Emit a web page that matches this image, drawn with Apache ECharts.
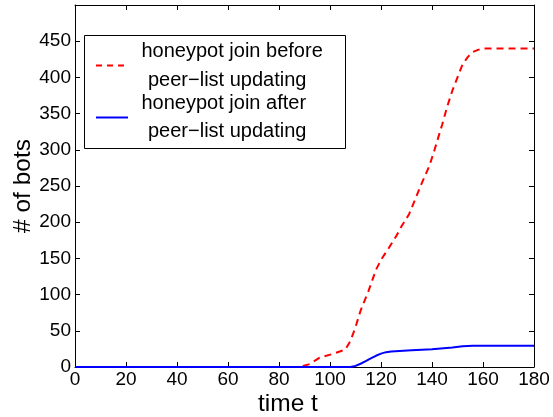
<!DOCTYPE html>
<html>
<head>
<meta charset="utf-8">
<script src="https://cdn.jsdelivr.net/npm/echarts@6/dist/echarts.min.js"></script>
<style>
  html, body { margin: 0; padding: 0; background: #fff; }
  #chart { width: 553px; height: 417px; }
</style>
</head>
<body>
<div id="chart"></div>
<script>
// Bot counts over time for the two honeypot join strategies
const beforeTime = [0, 88, 92, 96, 101, 106, 108, 110, 112, 115, 118, 120, 123, 126, 128, 131, 133, 136, 139, 141, 144, 146, 148, 150, 152, 154, 156, 158, 160, 165, 170, 175, 180];
const beforeBots = [0, 0, 4, 13, 18, 24, 36, 55, 78, 104, 134, 148, 164, 181, 194, 211, 228, 254, 278, 300, 335, 360, 382, 400, 418, 428, 435, 438, 440, 440, 440, 440, 440];

const afterTime = [0, 108, 110, 112, 114, 116, 118, 120, 122, 124, 132, 140, 148, 152, 156, 160, 170, 180];
const afterBots = [0, 0, 1.5, 4.5, 8, 12, 15.5, 18.5, 20.5, 21.5, 23, 24.5, 27, 28.5, 29.2, 29.5, 29.5, 29.5];

const xTicks = [0, 20, 40, 60, 80, 100, 120, 140, 160, 180];
const yTicks = [0, 50, 100, 150, 200, 250, 300, 350, 400, 450];

const legendNames = ['honeypot join before\npeer\u2212list updating', 'honeypot join after\npeer\u2212list updating'];

const FONT = "'Liberation Sans', Arial, Helvetica, sans-serif";

const pairs = (xs, ys) => xs.map((x, i) => [x, ys[i]]);

const chart = echarts.init(document.getElementById('chart'), null, { renderer: 'canvas' });

const axisLine = { show: true, onZero: false, lineStyle: { color: '#000', width: 1 } };
const tickIn = { show: true, inside: true, length: 5, lineStyle: { color: '#000', width: 1 } };

chart.setOption({
  animation: false,
  backgroundColor: '#fff',
  grid: { left: 75, right: 19, top: 5, bottom: 50, containLabel: false },
  xAxis: [
    {
      type: 'value', min: 0, max: 180, interval: 20, position: 'bottom',
      axisLine: axisLine, axisTick: tickIn, splitLine: { show: false },
      axisLabel: {
        color: '#000', fontSize: 19, fontFamily: FONT, margin: 3,
        formatter: v => xTicks.includes(v) ? String(v) : ''
      }
    },
    {
      type: 'value', min: 0, max: 180, interval: 20, position: 'top',
      axisLine: axisLine, axisTick: tickIn, axisLabel: { show: false }, splitLine: { show: false }
    }
  ],
  yAxis: [
    {
      type: 'value', min: 0, max: 500, interval: 50, position: 'left',
      axisLine: axisLine, axisTick: tickIn, splitLine: { show: false },
      axisLabel: {
        color: '#000', fontSize: 19, fontFamily: FONT, margin: 4,
        formatter: v => yTicks.includes(v) ? String(v) : ''
      }
    },
    {
      type: 'value', min: 0, max: 500, interval: 50, position: 'right',
      axisLine: axisLine, axisTick: tickIn, axisLabel: { show: false }, splitLine: { show: false }
    }
  ],
  series: [
    {
      name: legendNames[0], type: 'line', data: pairs(beforeTime, beforeBots),
      showSymbol: false, symbol: 'none', smooth: false,
      lineStyle: { color: '#ff0000', width: 2, type: [7, 5] }, z: 3
    },
    {
      name: legendNames[1], type: 'line', data: pairs(afterTime, afterBots),
      showSymbol: false, symbol: 'none', smooth: false,
      lineStyle: { color: '#0000ff', width: 2, type: 'solid' }, z: 4
    }
  ],
  graphic: [
    // axis titles
    { type: 'text', left: 258, top: 392, style: { text: 'time t', font: '24.5px ' + FONT, fill: '#000' } },
    {
      type: 'text', x: 23, y: 186, rotation: Math.PI / 2,
      style: { text: '# of bots', font: '24.5px ' + FONT, fill: '#000', align: 'center', verticalAlign: 'middle' }
    },
    // legend box
    { type: 'rect', shape: { x: 84.5, y: 35.5, width: 261, height: 113 }, style: { fill: '#fff', stroke: '#000', lineWidth: 1 }, z: 10 },
    { type: 'line', shape: { x1: 96, y1: 65.5, x2: 128, y2: 65.5 }, style: { stroke: '#ff0000', lineWidth: 2, lineDash: [6, 5] }, z: 11 },
    { type: 'line', shape: { x1: 96, y1: 117.5, x2: 128, y2: 117.5 }, style: { stroke: '#0000ff', lineWidth: 2 }, z: 11 },
    { type: 'text', x: 141.5, y: 51.5, style: { text: 'honeypot join before', font: '20px ' + FONT, fill: '#000', verticalAlign: 'middle' }, z: 11 },
    { type: 'text', x: 148, y: 80, style: { text: 'peer\u2212list updating', font: '20px ' + FONT, fill: '#000', verticalAlign: 'middle' }, z: 11 },
    { type: 'text', x: 141.5, y: 103, style: { text: 'honeypot join after', font: '20px ' + FONT, fill: '#000', verticalAlign: 'middle' }, z: 11 },
    { type: 'text', x: 148, y: 131.5, style: { text: 'peer\u2212list updating', font: '20px ' + FONT, fill: '#000', verticalAlign: 'middle' }, z: 11 }
  ]
});
</script>
</body>
</html>
